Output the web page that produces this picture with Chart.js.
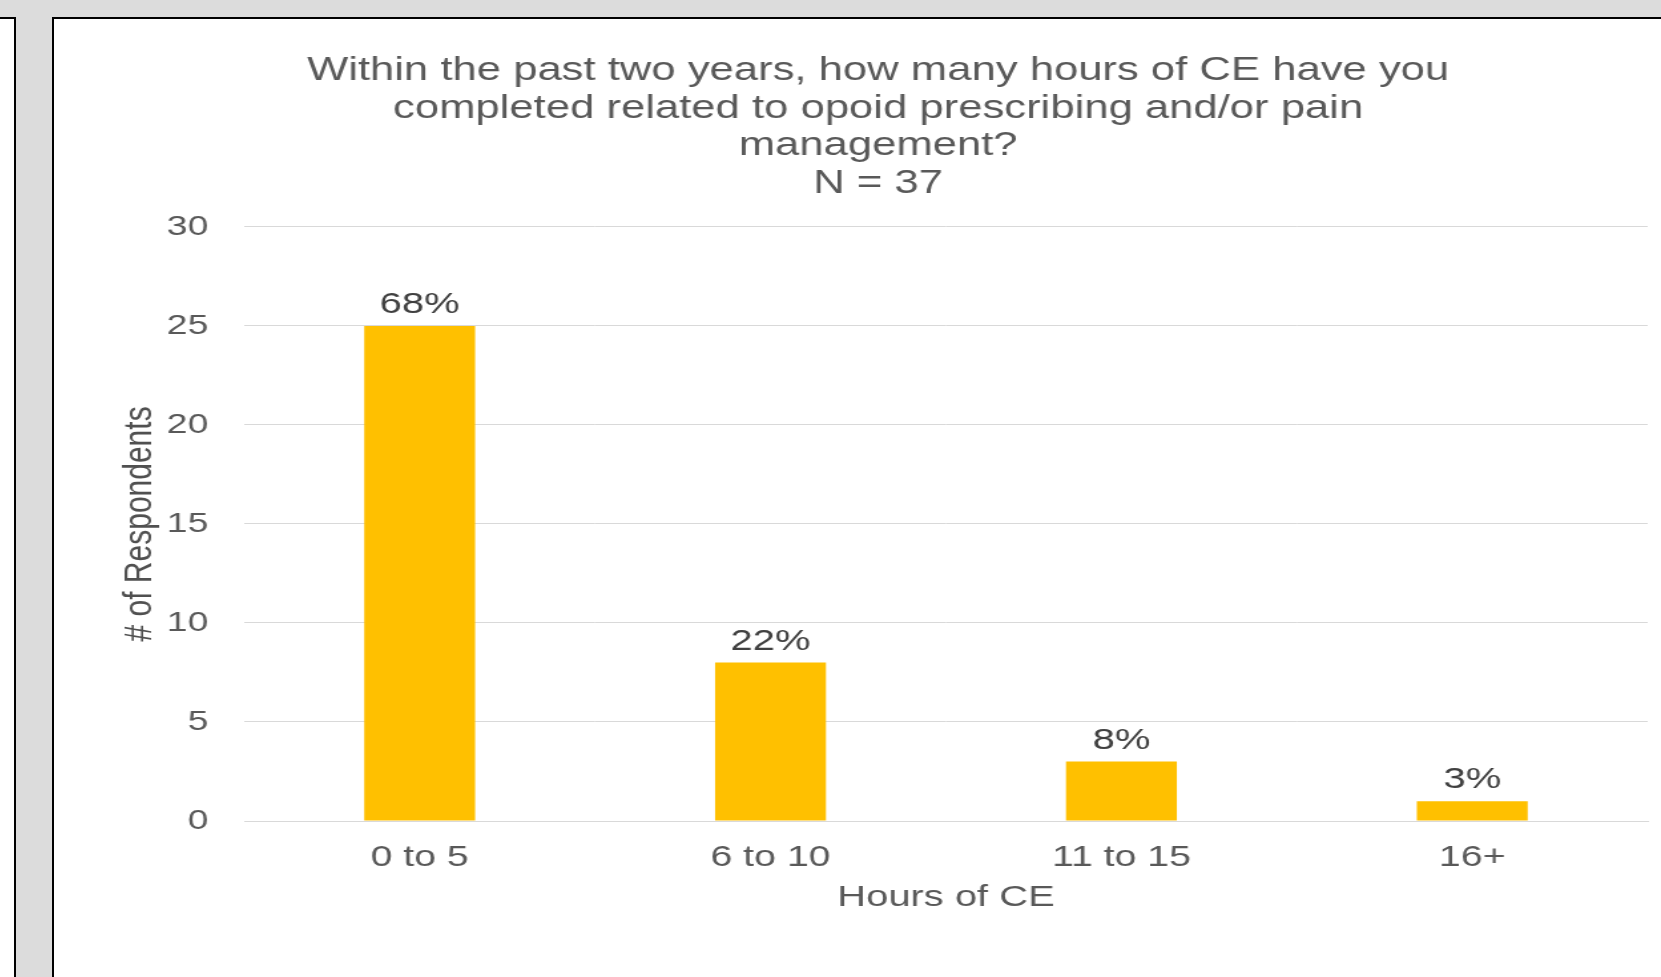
<!DOCTYPE html>
<html>
<head>
<meta charset="utf-8">
<title>Hours of CE</title>
<script src="https://cdn.jsdelivr.net/npm/chart.js@4.4.1/dist/chart.umd.min.js"></script>
<style>
  html, body { margin: 0; padding: 0; }
  body { width: 1661px; height: 977px; background: #dcdcdc; position: relative; overflow: hidden; }
  .side { position: absolute; left: 0; top: 17px; width: 14px; height: 960px; background: #fff; border-right: 2px solid #000; border-top: 2px solid #000; }
  .panel { position: absolute; left: 52px; top: 17px; right: 0; bottom: 0; background: #fff; border-left: 2px solid #000; border-top: 2px solid #000; }
  #chart { position: absolute; left: 0; top: 0; width: 1607px; height: 958px; }
</style>
</head>
<body>
<div class="side"></div>
<div class="panel">
  <canvas id="chart" width="1208" height="958"></canvas>
</div>
<script>
// data
const categories = ['0 to 5', '6 to 10', '11 to 15', '16+'];
const respondents = [25, 8, 3, 1];
const percentLabels = ['68%', '22%', '8%', '3%'];
const yMin = 0;
const yMax = 30;
const yStep = 5;
const titleLines = [
  'Within the past two years, how many hours of CE have you',
  'completed related to opoid prescribing and/or pain',
  'management?',
  'N = 37'
];

const FONT = "'Liberation Sans', Arial, sans-serif";
const GREY = '#595959';

// percent labels over the bars
const barLabels = {
  id: 'barLabels',
  afterDatasetsDraw(chart) {
    const ctx = chart.ctx;
    const meta = chart.getDatasetMeta(0);
    ctx.save();
    ctx.fillStyle = '#404040';
    ctx.font = '30px ' + FONT;
    ctx.textAlign = 'center';
    ctx.textBaseline = 'alphabetic';
    meta.data.forEach((bar, i) => {
      ctx.fillText(percentLabels[i], bar.x, bar.y - 13);
    });
    ctx.restore();
  }
};

const ctxBar = document.getElementById('chart');

new Chart(ctxBar, {
  type: 'bar',
  data: {
    labels: categories,
    datasets: [{
      label: '# of Respondents',
      data: respondents,
      backgroundColor: '#FFC000',
      borderWidth: 0,
      categoryPercentage: 0.5,
      barPercentage: 0.632
    }]
  },
  plugins: [barLabels],
  options: {
    responsive: false,
    animation: false,
    devicePixelRatio: 1,
    layout: {
      padding: { top: 33, left: 41, right: 10, bottom: 61 }
    },
    plugins: {
      legend: { display: false },
      tooltip: { enabled: false },
      title: {
        display: true,
        text: titleLines,
        color: GREY,
        font: { family: FONT, size: 32.8, weight: 'normal', lineHeight: 1.15 },
        padding: { top: 0, bottom: 24 }
      }
    },
    scales: {
      x: {
        afterFit: (scale) => { scale.height = 95; },
        grid: { display: false, drawTicks: false },
        border: { display: true, color: '#d9d9d9', width: 1 },
        ticks: {
          color: GREY,
          font: { family: FONT, size: 29.5 },
          padding: 19
        },
        title: {
          display: true,
          text: 'Hours of CE',
          color: GREY,
          font: { family: FONT, size: 30 },
          padding: { top: 0, bottom: 0 }
        }
      },
      y: {
        min: yMin,
        max: yMax,
        afterFit: (scale) => { scale.width = 102; },
        grid: { color: '#d9d9d9', drawTicks: false },
        border: { display: false },
        ticks: {
          stepSize: yStep,
          color: GREY,
          font: { family: FONT, size: 28 },
          padding: 27
        },
        title: {
          display: true,
          text: '# of Respondents',
          color: '#505050',
          font: { family: FONT, size: 30 },
          padding: { top: 6, bottom: 0 }
        }
      }
    }
  }
});

// the picture is stretched sideways, so the canvas is shown wider than it draws
ctxBar.style.width = '1607px';
ctxBar.style.height = '958px';
</script>
</body>
</html>
